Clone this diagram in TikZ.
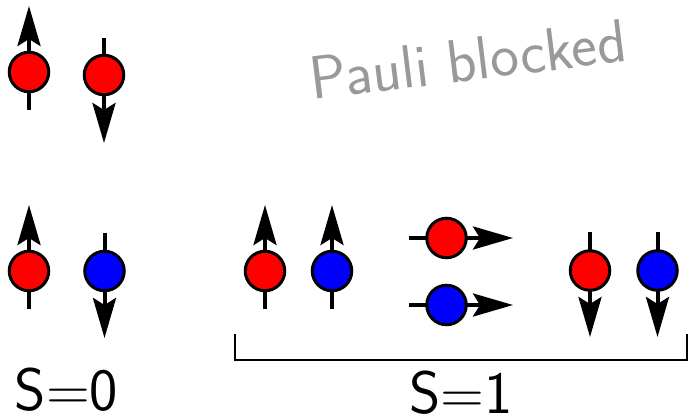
\documentclass[tikz,border=0pt]{standalone}
\usepackage{fontspec}
\usetikzlibrary{arrows.meta,calc}
\tikzset{
  spinarrow/.style={line width=4pt,-{Stealth[length=40pt,width=23pt,inset=7pt]}},
  ball/.style={circle,draw=black,line width=3pt,inner sep=0pt,minimum size=39.5pt},
  redball/.style={ball,fill=red},
  blueball/.style={ball,fill=blue},
  bigtext/.style={font=\sffamily\fontsize{60}{62}\selectfont,inner sep=0pt,anchor=base},
  paulitext/.style={font=\sffamily\fontsize{61}{64}\selectfont,text=black!40,inner sep=0pt,anchor=base west,rotate=7},
  bracket/.style={line width=1.6pt}
}
\begin{document}
\begin{tikzpicture}[x=1pt,y=-1pt]
\useasboundingbox (0,0) rectangle (690,417);
% coordinates of spin centres
\coordinate (a1) at (29,72);
\coordinate (a2) at (104,75);
\coordinate (b1) at (29,271);
\coordinate (b2) at (104.5,271);
\coordinate (c1) at (265,271);
\coordinate (c2) at (332,271);
\coordinate (c3) at (446.5,238);
\coordinate (c4) at (446.5,305);
\coordinate (c5) at (590,270.5);
\coordinate (c6) at (657.5,270.5);
% arrows (behind balls)
\draw[spinarrow] ($(a1)+(0,38)$) -- ($(a1)+(0,-66)$);
\draw[spinarrow] ($(a2)+(0,-37)$) -- ($(a2)+(0,68)$);
\draw[spinarrow] ($(b1)+(0,38)$) -- ($(b1)+(0,-66)$);
\draw[spinarrow] ($(b2)+(0,-38)$) -- ($(b2)+(0,67)$);
\draw[spinarrow] ($(c1)+(0,38)$) -- ($(c1)+(0,-66)$);
\draw[spinarrow] ($(c2)+(0,38)$) -- ($(c2)+(0,-66)$);
\draw[spinarrow] ($(c3)+(-37.5,0)$) -- ($(c3)+(66.5,0)$);
\draw[spinarrow] ($(c4)+(-37.5,0)$) -- ($(c4)+(66.5,0)$);
\draw[spinarrow] ($(c5)+(0,-38.5)$) -- ($(c5)+(0,66.5)$);
\draw[spinarrow] ($(c6)+(0,-38.5)$) -- ($(c6)+(0,66.5)$);
% balls
\node[redball] (A1) at (a1) {};
\node[redball] (A2) at (a2) {};
\node[redball] (B1) at (b1) {};
\node[blueball] (B2) at (b2) {};
\node[redball] (C1) at (c1) {};
\node[blueball] (C2) at (c2) {};
\node[redball] (C3) at (c3) {};
\node[blueball] (C4) at (c4) {};
\node[redball] (C5) at (c5) {};
\node[blueball] (C6) at (c6) {};
% bracket
\coordinate (bl) at (235,334);
\coordinate (br) at (687,334);
\draw[bracket] (bl) -- ++(0,26) -| (br);
% labels
\node[bigtext] (s0) at (66.5,410) {S=0};
\node[bigtext] (s1) at (461,413) {S=1};
\node[paulitext] (pb) at (312,100) {Pauli blocked};
\end{tikzpicture}
\end{document}
